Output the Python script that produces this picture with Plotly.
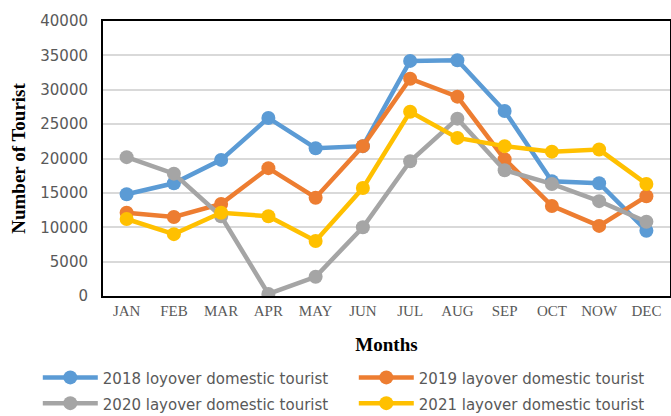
import plotly.graph_objects as go

months = ["JAN", "FEB", "MAR", "APR", "MAY", "JUN", "JUL", "AUG", "SEP", "OCT", "NOW", "DEC"]
y2018 = [14800, 16400, 19800, 25900, 21500, 21800, 34200, 34300, 26900, 16700, 16400, 9500]
y2019 = [12100, 11500, 13400, 18600, 14300, 21800, 31600, 29000, 19900, 13100, 10200, 14500]
y2020 = [20200, 17800, 11600, 300, 2800, 10000, 19600, 25800, 18300, 16300, 13800, 10800]
y2021 = [11200, 9000, 12100, 11600, 8000, 15700, 26800, 23000, 21800, 21000, 21300, 16300]
names = ["2018 loyover domestic tourist", "2019 layover domestic tourist",
         "2020 layover domestic tourist", "2021 layover domestic tourist"]
colors = ["#5B9BD5", "#ED7D31", "#A5A5A5", "#FFC000"]

fig = go.Figure()
for name, ys, c in zip(names, [y2018, y2019, y2020, y2021], colors):
    fig.add_trace(go.Scatter(x=months, y=ys,
                             name="<span style='font-size:15px'>" + name + "</span>",
                             mode="lines+markers",
                             line=dict(color=c, width=4.5),
                             marker=dict(color=c, size=14)))

fig.update_layout(
    width=671, height=416,
    margin=dict(l=103, r=1, t=21, b=120, autoexpand=False),
    plot_bgcolor="white", paper_bgcolor="white",
    showlegend=True,
    legend=dict(orientation="h", x=-0.115, xanchor="left",
                y=-0.231, yanchor="top",
                entrywidth=246, entrywidthmode="pixels",
                font=dict(family="DejaVu Sans, sans-serif", size=17.5, color="#595959"),
                itemwidth=55),
    xaxis=dict(
        tickfont=dict(family="Liberation Serif, serif", size=15, color="#595959"),
        title=dict(text="<b>Months</b>", font=dict(family="Liberation Serif, serif", size=19, color="black"), standoff=20),
        showline=True, linecolor="black", linewidth=2, mirror=True,
        showgrid=False, ticks="", range=[-0.5, 11.5], automargin=False,
    ),
    yaxis=dict(
        range=[0, 40000], dtick=5000, tickformat="d",
        tickfont=dict(family="DejaVu Sans, sans-serif", size=15, color="#595959"),
        title=dict(text="<b>Number of Tourist</b>", font=dict(family="Liberation Serif, serif", size=19, color="black"), standoff=10),
        showline=True, linecolor="black", linewidth=2, mirror=True,
        showgrid=True, gridcolor="#D9D9D9", gridwidth=2,
        zeroline=False, ticks="", ticklabelstandoff=10, automargin=False,
    ),
)

fig.write_html("out.html", config={"displayModeBar": False},
               post_script="document.body.style.margin='0px';")
